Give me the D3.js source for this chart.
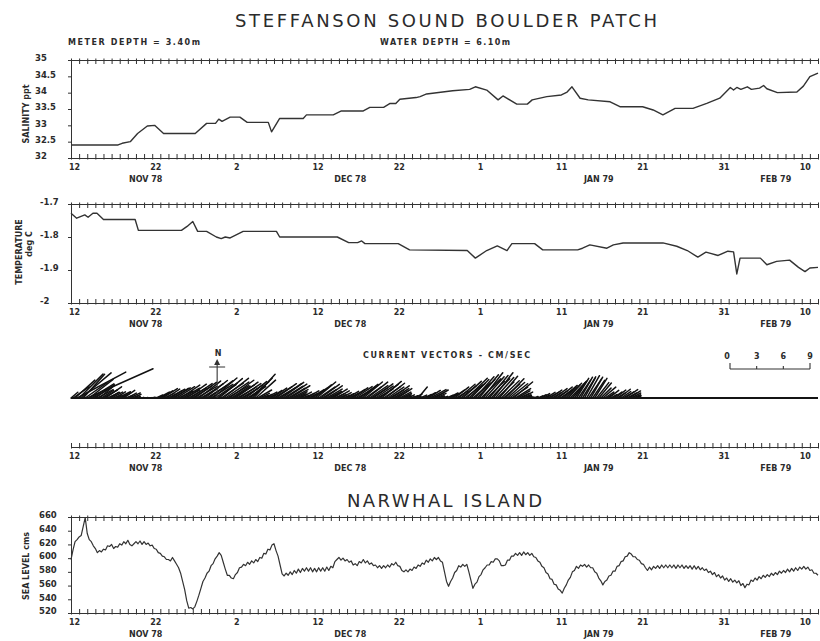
<!DOCTYPE html>
<html>
<head>
<meta charset="utf-8">
<script src="https://cdn.jsdelivr.net/npm/d3@7"></script>
<style>
  html, body { margin: 0; padding: 0; background: #fff; }
  svg { display: block; }
  text { font-family: "DejaVu Sans", "Liberation Sans", sans-serif; fill: #2b2b2b; }
  .small { font-size: 8px; font-weight: bold; }
  .axis path, .axis line { stroke: #333; stroke-width: 1; fill: none; }
</style>
</head>
<body>
<svg id="chart" width="820" height="641"></svg>
<script>
// ---- time axis (days after 12 Nov 1978) ----
const dayTickDays   = [0, 10, 20, 30, 40, 50, 60, 70, 80, 90];
const dayTickLabels = ["12", "22", "2", "12", "22", "1", "11", "21", "31", "10"];
const monthLabelDays = [9.2, 34.4, 65, 86.8];
const monthLabels    = ["NOV 78", "DEC 78", "JAN 79", "FEB 79"];

// ---- y tick values ----
const salinityTicks = [32, 32.5, 33, 33.5, 34, 34.5, 35];
const salinityTickLabels = ["32", "32.5", "33", "33.5", "34", "34.5", "35"];
const temperatureTicks = [-2, -1.9, -1.8, -1.7];
const temperatureTickLabels = ["-2", "-1.9", "-1.8", "-1.7"];
const seaLevelTicks = [520, 540, 560, 580, 600, 620, 640, 660];

// ---- salinity, ppt: [day, value] ----
const salinity = [
  [0, 32.40], [5.8, 32.40], [6.3, 32.45], [7.3, 32.50], [8.2, 32.75], [9.4, 32.98],
  [10.3, 33.0], [11.4, 32.75], [15.3, 32.75], [16.7, 33.06], [17.8, 33.06], [18.2, 33.19],
  [18.6, 33.12], [19.6, 33.25], [20.8, 33.25], [21.7, 33.09], [24.3, 33.09], [24.7, 32.80],
  [25.7, 33.21], [28.6, 33.21], [29.0, 33.32], [32.3, 33.32], [33.3, 33.44], [36.0, 33.44],
  [36.8, 33.55], [38.5, 33.55], [39.3, 33.67], [40.0, 33.67], [40.5, 33.80], [42.5, 33.85],
  [43.0, 33.88], [43.8, 33.96], [47.0, 34.06], [49.1, 34.10], [49.8, 34.18], [51.2, 34.08],
  [52.6, 33.78], [53.2, 33.90], [54.9, 33.65], [56.2, 33.65], [56.8, 33.78], [58.6, 33.88],
  [60.4, 33.93], [61.1, 34.02], [61.7, 34.18], [62.7, 33.83], [63.7, 33.78], [66.4, 33.72],
  [67.6, 33.57], [70.4, 33.57], [71.7, 33.47], [72.9, 33.32], [74.4, 33.52], [76.6, 33.52],
  [78.3, 33.67], [79.9, 33.83], [81.2, 34.16], [81.6, 34.08], [82.0, 34.16], [82.5, 34.10],
  [83.3, 34.18], [83.8, 34.10], [84.8, 34.14], [85.3, 34.22], [85.7, 34.12], [87.0, 34.00],
  [89.4, 34.02], [90.2, 34.20], [91.0, 34.49], [92.0, 34.60]
];

// ---- temperature, deg C: [day, value] ----
const temperature = [
  [0, -1.728], [0.7, -1.743], [1.7, -1.733], [2.1, -1.740], [2.7, -1.728], [3.2, -1.728],
  [4.0, -1.747], [7.9, -1.747], [8.3, -1.780], [13.6, -1.780], [14.3, -1.768], [15.0, -1.753],
  [15.6, -1.783], [16.7, -1.783], [17.9, -1.800], [18.5, -1.805], [19.0, -1.800], [19.6, -1.803],
  [21.2, -1.783], [25.3, -1.783], [25.7, -1.800], [32.8, -1.800], [34.2, -1.817], [35.3, -1.817],
  [35.8, -1.812], [36.2, -1.820], [40.3, -1.820], [41.7, -1.839], [48.8, -1.841], [49.8, -1.864],
  [51.2, -1.841], [52.5, -1.827], [53.7, -1.841], [54.3, -1.820], [57.1, -1.820], [58.1, -1.839],
  [62.4, -1.839], [63.0, -1.834], [63.9, -1.824], [66.0, -1.834], [66.8, -1.824], [68.0, -1.818],
  [72.9, -1.818], [74.6, -1.828], [75.9, -1.841], [77.2, -1.861], [78.2, -1.846], [79.7, -1.856],
  [80.9, -1.843], [81.6, -1.845], [82.0, -1.912], [82.4, -1.864], [84.9, -1.864], [85.7, -1.884],
  [86.9, -1.874], [88.5, -1.870], [89.6, -1.892], [90.4, -1.905], [91.0, -1.894], [92.0, -1.892]
];

// ---- current vectors, every 6 hours from day 0 ----
const currentStepDays = 0.25;
const currentSpeed = [ // cm/s
  1.0, 2.2, 3.0, 6.2,   3.8, 4.4, 3.6, 3.0,   8.1, 3.4, 3.0, 2.4,   2.6, 2.0, 2.2, 1.6,
  1.8, 2.2, 1.5, 1.2,   1.4, 0.9, 1.3, 1.6,   1.0, 1.2, 1.5, 0.8,   1.1, 1.3, 0.7, 0.9,
  0.5, 0.3, 0.2, 0.2,   0.1, 0.2, 0.1, 0.2,   0.3, 0.2, 0.8, 1.4,   1.6, 2.0, 1.2, 1.8,
  2.1, 1.5, 2.3, 1.9,   2.4, 1.8, 2.6, 2.2,   1.9, 2.7, 2.3, 2.9,   2.5, 3.0, 2.6, 3.1,
  2.2, 2.8, 3.2, 2.6,   3.3, 2.9, 3.5, 3.0,   2.6, 3.4, 3.0, 3.6,   3.2, 2.8, 3.4, 2.5,
  2.8, 3.1, 2.4, 2.9,   2.2, 2.6, 3.0, 2.4,   2.8, 3.2, 3.6, 3.0,   1.8, 1.2, 0.8, 1.0,
  1.4, 1.0, 1.6, 2.0,   2.4, 2.8, 2.2, 2.9,   3.0, 2.5, 2.8, 2.2,   2.6, 2.0, 1.6, 1.2,
  1.0, 1.4, 0.8, 1.2,   1.6, 1.1, 1.8, 2.0,   2.4, 2.8, 2.2, 2.6,   1.8, 2.4, 2.0, 1.6,
  1.4, 1.9, 1.2, 1.6,   0.9, 1.3, 0.8, 1.1,   1.5, 1.2, 1.8, 2.0,   2.3, 1.9, 2.6, 2.4,
  2.8, 2.2, 2.9, 2.5,   2.1, 2.7, 2.4, 2.0,   2.6, 2.9, 2.3, 2.7,   2.2, 1.8, 2.4, 2.0,
  1.6, 1.9, 1.4, 1.2,   0.9, 0.6, 0.8, 0.5,   0.7, 1.0, 0.6, 1.6,   0.8, 0.5, 0.9, 1.2,
  1.6, 2.0, 1.4, 1.8,   1.2, 0.7, 0.5, 0.6,   0.4, 0.8, 1.2, 1.0,   1.6, 2.0, 1.5, 2.4,
  2.2, 2.8, 2.5, 3.2,   2.5, 2.9, 2.6, 3.2,   2.9, 3.4, 3.1, 3.6,   3.2, 2.7, 3.3, 3.0,
  3.6, 3.1, 2.6, 3.2,   2.8, 2.4, 3.0, 2.6,   2.6, 2.2, 2.8, 2.0,   1.6, 1.2, 1.4, 0.9,
  0.7, 0.5, 0.4, 0.3,   0.5, 0.3, 0.6, 0.8,   1.0, 0.7, 1.2, 1.4,   1.6, 1.2, 1.8, 1.5,
  2.0, 1.6, 2.2, 1.8,   2.4, 2.0, 2.6, 2.2,   2.3, 2.6, 2.4, 2.7,   2.8, 2.5, 2.9, 2.6,
  2.7, 2.4, 2.6, 2.2,   2.2, 1.6, 1.9, 1.2,   1.0, 1.4, 0.8, 1.2,   1.5, 1.1, 1.6, 1.3,
  1.4, 1.7, 1.2, 1.5,   1.2, 0.9, 0.7, 0.4,   0
];
const currentDir = [ // degrees true, direction toward
  50, 55, 48, 62,   45, 50, 42, 55,   66, 52, 58, 60,   55, 62, 50, 58,
  60, 55, 65, 58,   62, 70, 58, 64,   66, 60, 55, 68,   60, 64, 70, 62,
  70, 75, 80, 70,   80, 75, 85, 78,   75, 70, 65, 62,   60, 58, 64, 56,
  62, 58, 60, 55,   58, 64, 56, 60,   62, 55, 60, 56,   58, 54, 60, 52,
  60, 55, 52, 58,   54, 58, 50, 56,   55, 50, 56, 52,   56, 60, 54, 58,
  58, 55, 60, 56,   60, 56, 52, 58,   50, 46, 42, 48,   60, 64, 70, 66,
  62, 66, 58, 56,   58, 55, 60, 56,   54, 58, 56, 60,   58, 62, 64, 66,
  68, 62, 70, 64,   60, 64, 58, 56,   52, 50, 56, 54,   58, 55, 60, 62,
  62, 58, 66, 60,   66, 62, 68, 64,   60, 64, 58, 55,   56, 60, 54, 52,
  50, 55, 52, 56,   58, 54, 56, 60,   54, 50, 56, 52,   56, 60, 55, 58,
  60, 56, 62, 64,   66, 70, 64, 72,   68, 64, 70, 40,   66, 72, 64, 60,
  58, 62, 66, 60,   64, 68, 70, 72,   70, 66, 62, 60,   56, 52, 58, 50,
  52, 48, 54, 46,   48, 44, 50, 42,   44, 40, 46, 38,   42, 46, 40, 44,
  38, 42, 46, 40,   46, 50, 44, 48,   52, 56, 50, 58,   60, 64, 62, 66,
  66, 70, 72, 74,   70, 72, 66, 62,   60, 64, 58, 62,   56, 60, 54, 58,
  52, 56, 50, 48,   46, 42, 44, 40,   36, 32, 34, 30,   32, 28, 30, 34,
  30, 34, 32, 38,   40, 46, 50, 56,   58, 52, 60, 56,   54, 58, 52, 56,
  60, 56, 62, 58,   62, 66, 68, 70,   70
];

// ---- Narwhal Island sea level, cm, every 6 hours from day 0 ----
const seaLevelStepDays = 0.25;
const seaLevel = [
  598, 612, 624, 627,  631, 633, 646, 659,  636, 627, 624, 618,  614, 608, 611, 609,
  613, 612, 618, 617,  620, 614, 617, 616,  621, 619, 624, 621,  626, 620, 618, 621,
  624, 621, 625, 620,  624, 620, 622, 618,  619, 614, 613, 608,  607, 603, 602, 598,
  598, 596, 601, 596,  591, 586, 578, 566,  554, 538, 527, 528,  526, 529, 537, 546,
  556, 566, 571, 578,  581, 589, 592, 599,  603, 608, 604, 594,  584, 575, 575, 571,
  570, 576, 579, 586,  587, 591, 589, 594,  591, 596, 593, 598,  595, 601, 600, 607,
  606, 613, 612, 619,  621, 611, 603, 590,  577, 574, 578, 575,  580, 576, 582, 578,
  584, 579, 585, 581,  586, 581, 586, 580,  585, 580, 586, 581,  586, 581, 587, 582,
  588, 586, 595, 598,  601, 597, 600, 596,  598, 594, 596, 590,  592, 589, 595, 593,
  598, 593, 596, 591,  593, 589, 590, 586,  589, 585, 589, 586,  590, 587, 592, 590,
  594, 589, 588, 582,  580, 583, 580, 584,  582, 587, 585, 590,  588, 593, 591, 597,
  594, 599, 596, 601,  598, 601, 596, 594,  580, 566, 559, 566,  571, 579, 582, 589,
  587, 591, 588, 591,  580, 568, 556, 562,  565, 573, 576, 583,  586, 590, 590, 595,
  594, 599, 599, 596,  589, 589, 590, 597,  597, 603, 603, 607,  604, 608, 604, 609,
  605, 608, 604, 607,  602, 601, 596, 594,  588, 586, 579, 577,  570, 569, 562, 561,
  555, 553, 549, 556,  561, 568, 572, 580,  582, 588, 585, 590,  588, 591, 587, 590,
  586, 586, 580, 578,  571, 567, 561, 566,  568, 574, 575, 581,  581, 588, 589, 595,
  596, 602, 603, 608,  606, 602, 602, 598,  597, 592, 591, 586,  582, 587, 583, 588,
  585, 589, 585, 590,  586, 590, 586, 590,  586, 590, 585, 590,  586, 590, 585, 589,
  585, 589, 584, 589,  584, 588, 583, 586,  582, 584, 579, 581,  576, 579, 573, 576,
  571, 574, 568, 571,  566, 570, 565, 568,  564, 567, 560, 563,  557, 562, 561, 568,
  566, 571, 568, 573,  570, 575, 572, 576,  573, 578, 575, 579,  576, 581, 578, 582,
  579, 584, 580, 585,  581, 586, 582, 587,  584, 588, 584, 587,  582, 583, 578, 578,
  575
];

// ---------------------------------------------------------------------------
const svg = d3.select("#chart");
const lineColor = "#333";

const x = d3.scaleLinear().domain([0, 92]).range([71, 818]);
const allDays = d3.range(0, 93);

// Daily tick axis: ticks cross the line, longer on the plot side.
function dayAxis(y, inward) {
  const axis = (inward === "down" ? d3.axisTop(x) : d3.axisBottom(x))
    .tickValues(allDays).tickSizeOuter(0).tickFormat("");
  const g = svg.append("g").attr("class", "axis").attr("transform", `translate(0,${y})`).call(axis);
  g.selectAll(".tick line")
    .attr("y1", inward === "down" ? -1.5 : 1.5)
    .attr("y2", inward === "down" ? 4 : -4);
  g.select(".domain").attr("stroke-width", 1.1);
  return g;
}

// Date labels under a bottom axis.
function dateLabels(y) {
  const axis = d3.axisBottom(x).tickValues(dayTickDays).tickSize(0)
    .tickFormat((d, i) => dayTickLabels[i]);
  const g = svg.append("g").attr("transform", `translate(3,${y})`).call(axis);
  g.select(".domain").remove();
  g.selectAll(".tick text").attr("class", "small").attr("y", 6)
    .attr("font-size", 8.5).attr("font-weight", "bold").attr("fill", "#2b2b2b");
  svg.append("g").selectAll("text").data(monthLabels).join("text")
    .attr("class", "small").attr("text-anchor", "middle")
    .attr("x", (d, i) => x(monthLabelDays[i]))
    .attr("y", y + 24).text(d => d);
}

// Left value axis with labels flush-left at labelX.
function valueAxis(yScale, ticks, labels, labelX) {
  const axis = d3.axisLeft(yScale).tickValues(ticks).tickSize(3).tickSizeOuter(0)
    .tickFormat((d, i) => labels[i]);
  const g = svg.append("g").attr("class", "axis").attr("transform", `translate(${x(0)},0)`).call(axis);
  g.selectAll(".tick text")
    .attr("text-anchor", "start").attr("x", labelX - x(0)).attr("dy", "0.32em").attr("y", -2)
    .attr("font-size", 8.5).attr("font-weight", "bold").attr("fill", "#2b2b2b");
  g.select(".domain").attr("stroke-width", 1.1);
}

function yTitle(cx, cy, lines) {
  const t = svg.append("text").attr("class", "small")
    .attr("transform", `translate(${cx},${cy}) rotate(-90)`).attr("text-anchor", "middle");
  lines.forEach((s, i) => {
    t.append("tspan").attr("x", 0).attr("dy", i === 0 ? 0 : 10).text(s);
  });
}

// ---- headings ----
svg.append("text").attr("x", 235).attr("y", 27).attr("font-size", 18)
  .attr("textLength", 422).attr("lengthAdjust", "spacing").attr("fill", "#3a3a3a")
  .text("STEFFANSON SOUND BOULDER PATCH");
svg.append("text").attr("class", "small").attr("x", 68).attr("y", 45)
  .attr("textLength", 132).attr("lengthAdjust", "spacing").text("METER DEPTH = 3.40m");
svg.append("text").attr("class", "small").attr("x", 380).attr("y", 45)
  .attr("textLength", 130).attr("lengthAdjust", "spacing").text("WATER DEPTH = 6.10m");

// ---- salinity panel ----
const ySal = d3.scaleLinear().domain([32, 35]).range([158, 60]);
dayAxis(60, "down");
dayAxis(158, "up");
valueAxis(ySal, salinityTicks, salinityTickLabels, 35);
dateLabels(158);
yTitle(29, 114, ["SALINITY ppt"]);
svg.append("path").datum(salinity)
  .attr("d", d3.line().x(d => x(d[0])).y(d => ySal(d[1])))
  .attr("fill", "none").attr("stroke", lineColor).attr("stroke-width", 1.4).attr("stroke-linejoin", "round");

// ---- temperature panel ----
const yTemp = d3.scaleLinear().domain([-2, -1.7]).range([303, 204]);
dayAxis(204, "down");
dayAxis(303, "up");
valueAxis(yTemp, temperatureTicks, temperatureTickLabels, 40);
dateLabels(303);
yTitle(22, 252, ["TEMPERATURE"]);
yTitle(32, 244, ["deg C"]);
svg.append("path").datum(temperature)
  .attr("d", d3.line().x(d => x(d[0])).y(d => yTemp(d[1])))
  .attr("fill", "none").attr("stroke", lineColor).attr("stroke-width", 1.4).attr("stroke-linejoin", "round");

// ---- current vector stick plot ----
const stickBase = 398;
const speedPx = d3.scaleLinear().domain([0, 9]).range([0, 80]);
const sticks = currentSpeed.map((s, i) => ({ day: i * currentStepDays, s, dir: currentDir[i] * Math.PI / 180 }));
svg.append("g").selectAll("line").data(sticks).join("line")
  .attr("x1", d => x(d.day)).attr("y1", stickBase)
  .attr("x2", d => x(d.day) + speedPx(d.s) * Math.sin(d.dir))
  .attr("y2", d => stickBase - speedPx(d.s) * Math.cos(d.dir))
  .attr("stroke", "#111").attr("stroke-width", 1.5).attr("stroke-linecap", "round");
svg.append("line").attr("x1", x(0)).attr("x2", x(92)).attr("y1", stickBase).attr("y2", stickBase)
  .attr("stroke", "#141414").attr("stroke-width", 2);

// north arrow
const nx = x(18);
svg.append("line").attr("x1", nx).attr("x2", nx).attr("y1", 361).attr("y2", stickBase)
  .attr("stroke", lineColor).attr("stroke-width", 1.1);
svg.append("path").attr("d", `M${nx},359 L${nx - 3},365 L${nx + 3},365 Z`).attr("fill", lineColor);
svg.append("line").attr("x1", nx - 8).attr("x2", nx + 8).attr("y1", 367).attr("y2", 367)
  .attr("stroke", lineColor).attr("stroke-width", 1);
svg.append("text").attr("class", "small").attr("x", nx + 1).attr("y", 356).attr("text-anchor", "middle").text("N");

svg.append("text").attr("class", "small").attr("x", 363).attr("y", 358)
  .attr("textLength", 167).attr("lengthAdjust", "spacing").text("CURRENT VECTORS - CM/SEC");

// speed scale bar
const barX = 730, barY = 369;
const barTicks = [0, 3, 6, 9];
svg.append("line").attr("x1", barX).attr("x2", barX + speedPx(9)).attr("y1", barY).attr("y2", barY)
  .attr("stroke", lineColor).attr("stroke-width", 1.1);
svg.append("g").selectAll("line").data(barTicks).join("line")
  .attr("x1", d => barX + speedPx(d)).attr("x2", d => barX + speedPx(d))
  .attr("y1", barY).attr("y2", d => (d === 0 || d === 9) ? barY - 6 : barY - 3)
  .attr("stroke", lineColor).attr("stroke-width", 1.1);
svg.append("g").selectAll("text").data(barTicks).join("text")
  .attr("class", "small").attr("text-anchor", "middle")
  .attr("x", d => barX + speedPx(d) - (d === 0 ? 3 : 0)).attr("y", 359).text(d => d);

dayAxis(447, "up");
dateLabels(447);

// ---- Narwhal Island sea level ----
svg.append("text").attr("x", 347).attr("y", 507).attr("font-size", 18)
  .attr("textLength", 195).attr("lengthAdjust", "spacing").attr("fill", "#3a3a3a")
  .text("NARWHAL ISLAND");
const ySea = d3.scaleLinear().domain([520, 660]).range([613, 517]);
dayAxis(517, "down");
dayAxis(613, "up");
valueAxis(ySea, seaLevelTicks, seaLevelTicks.map(String), 39);
dateLabels(613);
yTitle(29, 566, ["SEA LEVEL cms"]);
svg.append("path").datum(seaLevel)
  .attr("d", d3.line().x((d, i) => x(i * seaLevelStepDays)).y(d => ySea(d)))
  .attr("fill", "none").attr("stroke", lineColor).attr("stroke-width", 1.2).attr("stroke-linejoin", "round");
</script>
</body>
</html>
